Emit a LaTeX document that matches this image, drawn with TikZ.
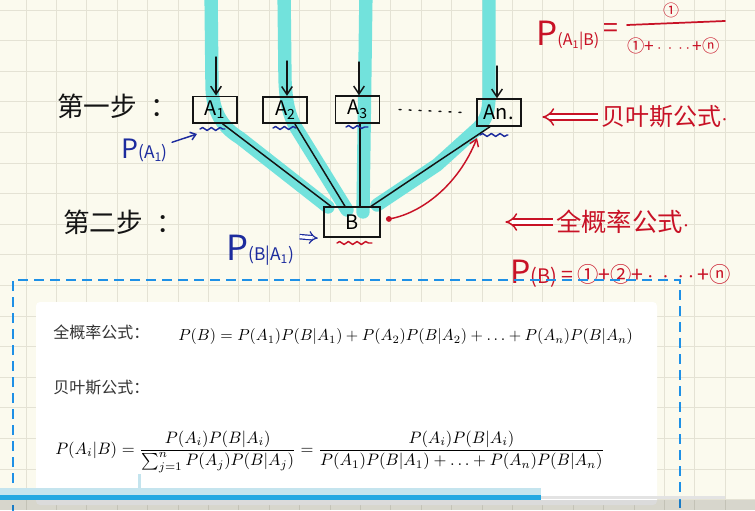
\documentclass[tikz,border=0pt]{standalone}
\usepackage{amsmath}
\usepackage{fontspec}
\newfontfamily\cjk{Noto Sans CJK SC}
\usetikzlibrary{arrows.meta,decorations.pathmorphing}

\definecolor{paper}{HTML}{FBFAEE}
\definecolor{gridline}{HTML}{E4E2D4}
\definecolor{cyanhi}{HTML}{72E2DC}
\definecolor{ink}{HTML}{141414}
\definecolor{redpen}{HTML}{C81226}
\definecolor{bluepen}{HTML}{1D2C9E}
\definecolor{dashblue}{HTML}{1E90E6}
\definecolor{barblue}{HTML}{23A8E2}
\definecolor{barpale}{HTML}{C4E4EE}
\definecolor{inkgray}{HTML}{333333}

\newcommand{\penP}[3]{{\fontsize{#1}{#1}\selectfont P}{\fontsize{#2}{#2}\selectfont(#3)}}
\newcommand{\pendots}{\,$\cdot\,\cdot\,\cdot\,\cdot$\,}

\tikzset{
  box/.style={draw=ink, line width=1.3pt, minimum width=33pt, minimum height=20pt, inner sep=0pt, font=\cjk\fontsize{15}{15}\selectfont},
  pen/.style={line width=1.1pt, line cap=round, line join=round},
  hilite/.style={draw=cyanhi, line width=10pt, line cap=round, line join=round},
  wavy/.style={pen, decorate, decoration={snake, amplitude=1.1pt, segment length=6.5pt}},
  hand/.style={inner sep=0pt, font=\cjk\fontsize{20}{20}\selectfont},
  panel/.style={inner sep=0pt, text=inkgray, font=\cjk\fontsize{12}{12}\selectfont},
}

\begin{document}
\begin{tikzpicture}[x=0.75pt,y=-0.75pt]
\useasboundingbox (0,0) rectangle (755,510);
\fill[paper] (0,0) rectangle (755,510);
\foreach \k in {0,...,24}
  \draw[gridline, line width=.6pt] ({26+30.4*\k},0) -- ({26+30.4*\k},510);
\foreach \k in {0,...,16}
  \draw[gridline, line width=.6pt] (0,{10+30.6*\k}) -- (755,{10+30.6*\k});

% highlighter
\draw[hilite] (211,-10) -- (212,88) .. controls (213,112) and (222,127) .. (240,138) -- (328,207);
\draw[hilite] (284,-10) -- (285,80) .. controls (286,105) and (290,116) .. (295,126) -- (347,210);
\draw[hilite] (366,-10) -- (363,212);
\draw[hilite] (489,-10) -- (489,95) .. controls (489,112) and (486,120) .. (478,128) -- (437,165) -- (377,205);

% first step
\node[box] (A1) at (214.7,109.7) {A\textsubscript{1}};
\node[box] (A2) at (285.3,110) {A\textsubscript{2}};
\node[box] (A3) at (357.5,109.5) {A\textsubscript{3}};
\node[box] (An) at (498.7,112.5) {An.};
\node[box, minimum width=42pt, minimum height=22.5pt] (B) at (352,222.3) {B};

\foreach \n/\x/\y in {A1/216/57, A2/287/61, A3/359/62, An/497/66}{
  \coordinate (in\n) at (\x,\y);
  \draw[pen, ink, -{Straight Barb[length=6pt,width=8pt]}] (in\n) -- (in\n |- \n.north);
}

\draw[pen, ink] ([xshift=6pt]A1.south) -- ([xshift=6pt]B.north west);
\draw[pen, ink] ([xshift=7.3pt]A2.south) -- ([xshift=-5.2pt]B.north);
\draw[pen, ink] ([xshift=1.9pt]A3.south) -- ([xshift=1.9pt]A3.south |- B.north);
\draw[pen, ink] ([xshift=-6.5pt]An.south) -- ([xshift=-7.5pt]B.north east);
\draw[pen, ink, dash pattern=on 1.5pt off 6pt] ([xshift=14pt]A3.east) -- ([xshift=-10pt]An.west);

\node[hand, anchor=west, ink] (step1) at (57,106) {第一步\hspace{10pt}：};
\node[hand, anchor=west, ink] (step2) at (63,222) {第二步\hspace{10pt}：};

% blue notes
\draw[wavy, bluepen] (200,129) -- (225,129);
\draw[wavy, bluepen] (273,128) -- (296,128);
\draw[wavy, bluepen] (346,127) -- (368,127);
\draw[wavy, bluepen] (480,135) -- (508,135);
\node[inner sep=0pt, anchor=west, bluepen, font=\cjk] (pa1) at (121,150) {\penP{20}{13}{A\textsubscript{1}}};
\coordinate (a1mark) at (197,134);
\draw[pen, bluepen, -{Straight Barb[length=4pt,width=6pt]}] ([xshift=3pt,yshift=-3pt]pa1.north east) -- (a1mark);
\node[inner sep=0pt, anchor=west, bluepen, font=\cjk] (pba1) at (226,250) {\penP{26}{13}{B|A\textsubscript{1}}};
\draw[bluepen, line width=.9pt, double distance=2.4pt, -{Implies}] ([xshift=4pt,yshift=10pt]pba1.east) -- ([xshift=-4pt]B.south west);

% red notes
\draw[wavy, redpen] (337,243) -- (372,243);
\coordinate (dot) at ([xshift=6pt,yshift=2.5pt]B.east);
\fill[redpen] (dot) circle (2.2pt);
\coordinate (anmark) at (477,138);
\draw[pen, redpen, -{Straight Barb[length=5pt,width=7pt]}] (dot) .. controls (420,214) and (458,186) .. (anmark);

\node[inner sep=0pt, anchor=west, redpen, font=\cjk] (pa1b) at (536,36) {\penP{25}{12}{A\textsubscript{1}|B}};
\node[inner sep=0pt, redpen, font=\cjk\fontsize{20}{20}\selectfont] (eq1) at (611,31) {=};
\draw[pen, redpen, line width=1.3pt] (627,25) -- (725,21);
\node[inner sep=0pt, redpen, font=\cjk\fontsize{12}{12}\selectfont] (num) at (671,10) {①};
\node[inner sep=0pt, anchor=west, redpen, font=\cjk\fontsize{13}{13}\selectfont] (den) at (627,46) {①+\pendots+ⓝ};

\node[inner sep=0pt, anchor=west, redpen, font=\cjk\fontsize{18}{18}\selectfont] (bayes) at (601,117) {贝叶斯公式$\cdot$};
\draw[redpen, line width=1.1pt, double distance=3.5pt, -{Implies}] ([xshift=-2pt]bayes.west) -- ++(-56,0);
\node[inner sep=0pt, anchor=west, redpen, font=\cjk\fontsize{19}{19}\selectfont] (total) at (556,222) {全概率公式$\cdot$};
\draw[redpen, line width=1.1pt, double distance=3.5pt, -{Implies}] ([xshift=-2pt]total.west) -- ++(-48,0);

\node[inner sep=0pt, anchor=west, redpen, font=\cjk] (pb) at (510,274) {\penP{24}{15}{B}};
\node[inner sep=0pt, anchor=west, redpen, font=\cjk\fontsize{16}{16}\selectfont] (pbsum) at ([xshift=3pt]pb.east) {=\,①+②+\pendots+ⓝ};

% printed formulas
\draw[dashblue, line width=2.2pt, dash pattern=on 7.5pt off 4.5pt] (13,515) -- (13,280) -- (680,280) -- (680,515);
\fill[white, rounded corners=3pt] (36,302) rectangle (657,505);
\node[panel, anchor=west] (lbltotal) at (53,332) {全概率公式：};
\node[inner sep=0pt, anchor=west] (eqtotal) at (178,337) {\resizebox{341pt}{!}{$P(B)=P(A_1)P(B|A_1)+P(A_2)P(B|A_2)+\ldots+P(A_n)P(B|A_n)$}};
\node[panel, anchor=west] (lblbayes) at (53,388) {贝叶斯公式：};
\node[inner sep=0pt, anchor=west] (eqbayes) at (55,452) {\resizebox{412pt}{!}{$\displaystyle P(A_i|B)=\frac{P(A_i)P(B|A_i)}{\sum_{j=1}^{n}P(A_j)P(B|A_j)}=\frac{P(A_i)P(B|A_i)}{P(A_1)P(B|A_1)+\ldots+P(A_n)P(B|A_n)}$}};

% player bar
\fill[barpale] (0,488) rectangle (541,496);
\fill[barpale] (138,474) rectangle (141,488);
\fill[black, opacity=.14] (0,500) rectangle (755,510);
\fill[barblue] (0,495) rectangle (541,500);
\fill[gray!22] (541,496) rectangle (725,499);
\end{tikzpicture}
\end{document}
